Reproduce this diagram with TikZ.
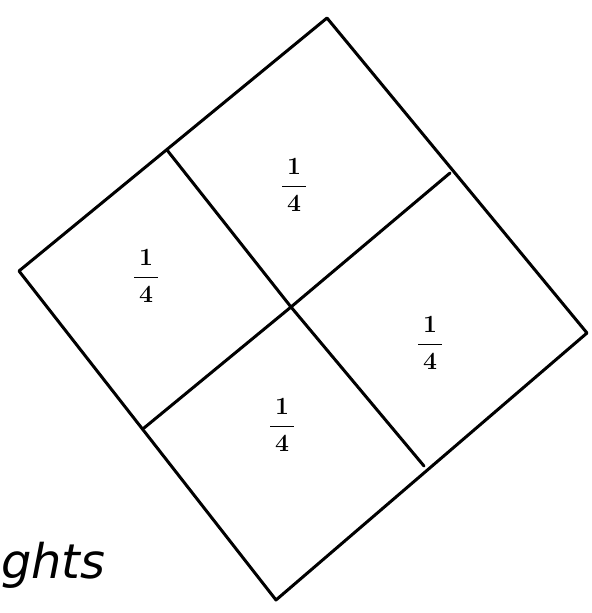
\documentclass[tikz,border=0pt]{standalone}
\usepackage{fontspec}
\newfontfamily\handfont{DejaVu Sans}
\begin{document}
\begin{tikzpicture}[x=1bp,y=-1bp,
  edge/.style={line width=3bp, line join=round, line cap=round},
  frac/.style={font=\fontsize{30}{36}\selectfont\boldmath, inner sep=0pt}]
\useasboundingbox (0,0) rectangle (592,613);
% corners
\coordinate (T) at (327,18);
\coordinate (R) at (587,333);
\coordinate (B) at (276,600);
\coordinate (L) at (19,271);
\coordinate (C) at (291,307);
% edge midpoints
\coordinate (TL) at (167,150);
\coordinate (TR) at (450,173);
\coordinate (BR) at (424,466);
\coordinate (BL) at (144,428);
\draw[edge] (T) -- (R) -- (B) -- (L) -- cycle;
\draw[edge] (TL) -- (C) -- (BR);
\draw[edge] (TR) -- (C) -- (BL);
\node[frac] (q1) at (294,185) {$\displaystyle\frac{\,1\,}{\,4\,}$};
\node[frac] (q2) at (146,276) {$\displaystyle\frac{\,1\,}{\,4\,}$};
\node[frac] (q3) at (430,343) {$\displaystyle\frac{\,1\,}{\,4\,}$};
\node[frac] (q4) at (282,425) {$\displaystyle\frac{\,1\,}{\,4\,}$};
\node[font=\handfont\itshape\fontsize{48}{54}\selectfont, anchor=base west, inner sep=0pt] (txt) at (1,578) {ghts};
\end{tikzpicture}
\end{document}
